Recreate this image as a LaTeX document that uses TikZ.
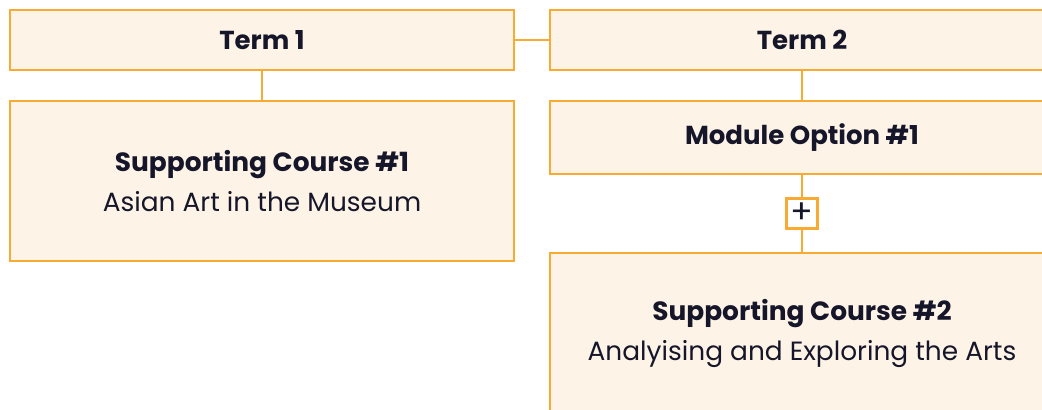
\documentclass[tikz,border=0pt]{standalone}
\usepackage{fontspec}
\setmainfont{Poppins}
\definecolor{boxline}{HTML}{F9AA33}
\definecolor{boxfill}{HTML}{FDF4E7}
\definecolor{ink}{HTML}{16162A}
\tikzset{
  termbox/.style={draw=boxline, fill=boxfill, line width=2.1pt, text=ink,
    minimum width=378pt, minimum height=45pt, font=\fontsize{19.5}{22}\selectfont\bfseries},
  coursebox/.style={draw=boxline, fill=boxfill, line width=2.1pt, text=ink,
    minimum width=378pt, minimum height=120pt, align=center, font=\fontsize{19.8}{30}\selectfont},
  plusbox/.style={draw=boxline, fill=white, line width=2.1pt, text=ink,
    minimum size=23pt, inner sep=0pt, font=\fontsize{25}{25}\selectfont},
  link/.style={draw=boxline, line width=2.1pt}
}
\begin{document}
\begin{tikzpicture}[x=0.75pt, y=-0.75pt]
    \useasboundingbox (0,0) rectangle (1042,410);
    \clip (0,0) rectangle (1042,410);

    % Terms
    \node[termbox] (term1) at (262,40) {Term 1};
    \node[termbox] (term2) at (802,40) {Term 2};
    \draw[link] (term1.east) -- (term2.west);

    % Term 1 course
    \node[coursebox] (course1) at (262,181)
        {\textbf{Supporting Course \#1}\\Asian Art in the Museum};
    \draw[link] (term1.south) -- (course1.north);

    % Term 2: module + course
    \node[termbox, minimum height=54.75pt] (module1) at (802,137.5) {\raisebox{-1.5pt}{Module Option \#1}};
    \draw[link] (term2.south) -- (module1.north);

    \node[plusbox] (plus) at (802,213.5) {+};
    \node[coursebox] (course2) at (802,333)
        {\textbf{Supporting Course \#2}\\Analyising and Exploring the Arts};
    \draw[link] (module1.south) -- (plus.north);
    \draw[link] (plus.south) -- (course2.north);

\end{tikzpicture}
\end{document}
